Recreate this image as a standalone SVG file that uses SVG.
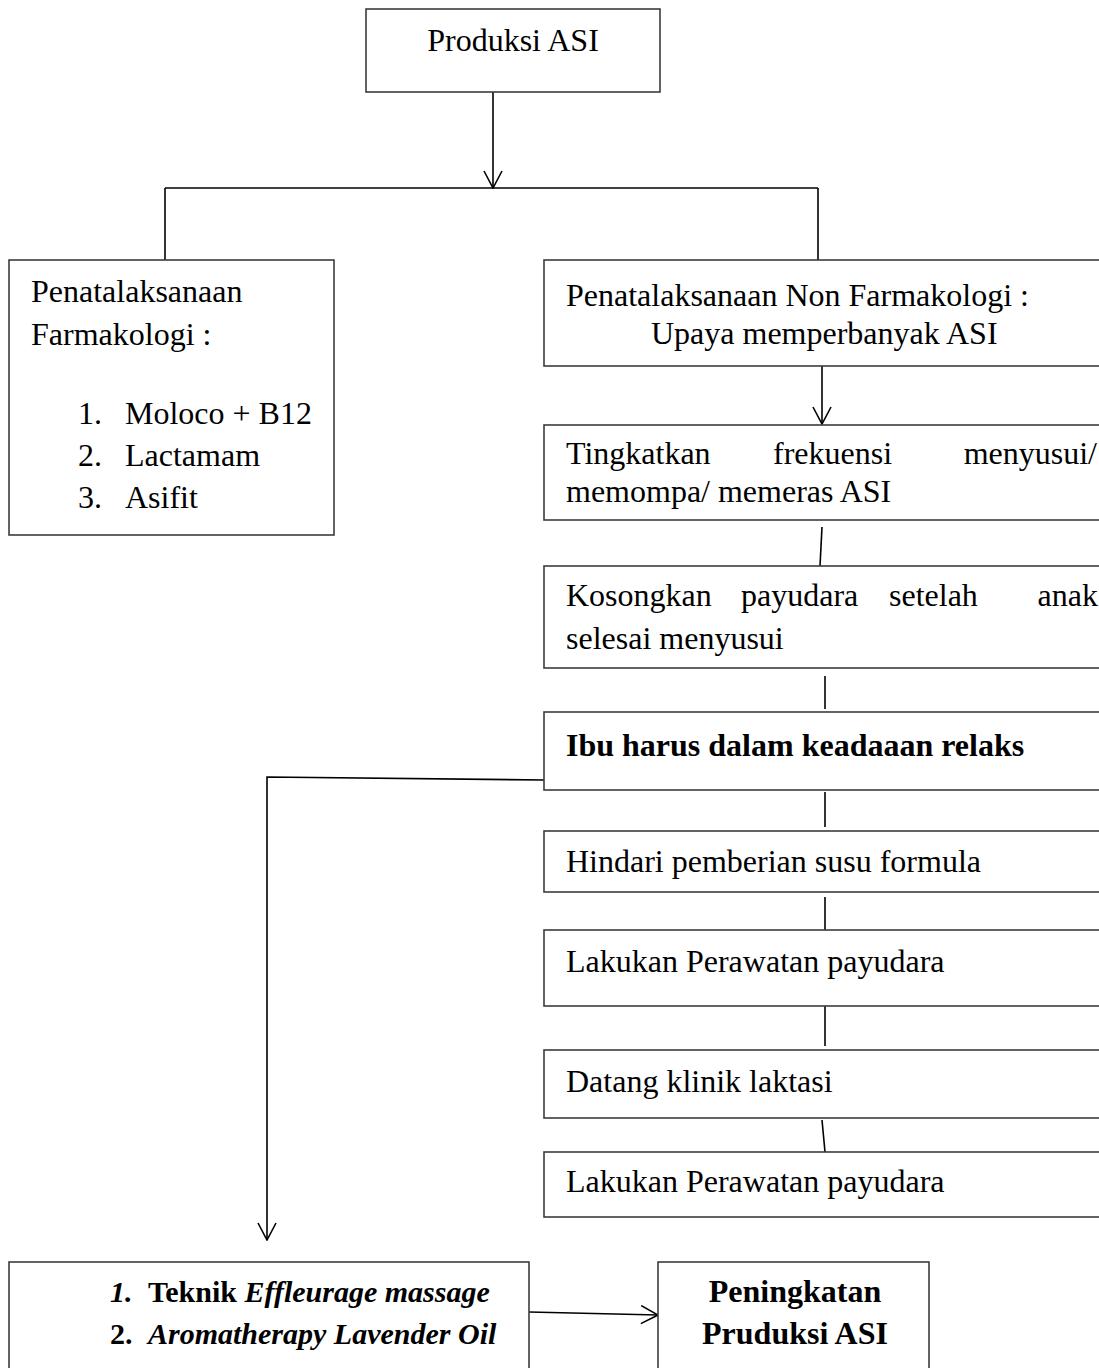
<svg xmlns="http://www.w3.org/2000/svg" width="1099" height="1368" viewBox="0 0 1099 1368">
<style>
  .box { fill: #fff; stroke: #3c3c3c; stroke-width: 1.6; }
  .t { font-family: "Liberation Serif", "Times New Roman", serif; font-size: 32px; fill: #000; }
  .s { font-size: 30px; }
  .b { font-weight: bold; }
  .i { font-style: italic; }
  .c { fill: none; stroke: #000; stroke-width: 1.6; }
</style>
<defs>
  <marker id="arr" viewBox="0 0 20 20" refX="19" refY="10" markerWidth="20" markerHeight="20" orient="auto" markerUnits="userSpaceOnUse">
    <path d="M2,1 L19,10 L2,19" fill="none" stroke="#000" stroke-width="1.6"/>
  </marker>
</defs>
<rect width="1099" height="1368" fill="#fff"/>

<g id="connectors">
  <line class="c" x1="493" y1="92" x2="493" y2="188" marker-end="url(#arr)"/>
  <line class="c" x1="165" y1="188" x2="818" y2="188"/>
  <line class="c" x1="165" y1="188" x2="165" y2="260"/>
  <line class="c" x1="818" y1="188" x2="818" y2="260"/>
  <line class="c" x1="822" y1="366" x2="822" y2="424" marker-end="url(#arr)"/>
  <line class="c" x1="822" y1="527" x2="820" y2="566"/>
  <line class="c" x1="825" y1="676" x2="825" y2="709"/>
  <line class="c" x1="825" y1="792" x2="825" y2="827"/>
  <line class="c" x1="825" y1="897" x2="825" y2="930"/>
  <line class="c" x1="825" y1="1006" x2="825" y2="1046"/>
  <line class="c" x1="822" y1="1120" x2="825" y2="1152"/>
  <polyline class="c" points="544,780 267,777 267,1240" marker-end="url(#arr)"/>
  <line class="c" x1="529" y1="1312" x2="658" y2="1315" marker-end="url(#arr)"/>
</g>

<g id="node-produksi">
  <rect class="box" x="366" y="9" width="294" height="83"/>
  <text class="t" x="513" y="51" text-anchor="middle">Produksi ASI</text>
</g>

<g id="node-farmakologi">
  <rect class="box" x="9" y="260" width="325" height="275"/>
  <text class="t" x="31" y="302">Penatalaksanaan</text>
  <text class="t" x="31" y="345">Farmakologi :</text>
  <text class="t" x="78" y="424">1.</text>
  <text class="t" x="125" y="424">Moloco + B12</text>
  <text class="t" x="78" y="466">2.</text>
  <text class="t" x="125" y="466">Lactamam</text>
  <text class="t" x="78" y="508">3.</text>
  <text class="t" x="125" y="508">Asifit</text>
</g>

<g id="node-nonfarmakologi">
  <rect class="box" x="544" y="260" width="560" height="106"/>
  <text class="t" x="566" y="306">Penatalaksanaan Non Farmakologi :</text>
  <text class="t" x="651" y="344">Upaya memperbanyak ASI</text>
</g>

<g id="node-tingkatkan">
  <rect class="box" x="544" y="425" width="560" height="95"/>
  <text class="t" x="566" y="464">Tingkatkan</text>
  <text class="t" x="773" y="464">frekuensi</text>
  <text class="t" x="1097" y="464" text-anchor="end">menyusui/</text>
  <text class="t" x="566" y="502">memompa/ memeras ASI</text>
</g>

<g id="node-kosongkan">
  <rect class="box" x="544" y="566" width="560" height="102"/>
  <text class="t" x="566" y="606">Kosongkan</text>
  <text class="t" x="741" y="606">payudara</text>
  <text class="t" x="889" y="606">setelah</text>
  <text class="t" x="1098" y="606" text-anchor="end">anak</text>
  <text class="t" x="566" y="649">selesai menyusui</text>
</g>

<g id="node-relaks">
  <rect class="box" x="544" y="712" width="560" height="78"/>
  <text class="t b" x="566" y="756">Ibu harus dalam keadaaan relaks</text>
</g>

<g id="node-hindari">
  <rect class="box" x="544" y="831" width="560" height="61"/>
  <text class="t" x="566" y="872">Hindari pemberian susu formula</text>
</g>

<g id="node-perawatan1">
  <rect class="box" x="544" y="930" width="560" height="76"/>
  <text class="t" x="566" y="972">Lakukan Perawatan payudara</text>
</g>

<g id="node-klinik">
  <rect class="box" x="544" y="1050" width="560" height="68"/>
  <text class="t" x="566" y="1092">Datang klinik laktasi</text>
</g>

<g id="node-perawatan2">
  <rect class="box" x="544" y="1152" width="560" height="65"/>
  <text class="t" x="566" y="1192">Lakukan Perawatan payudara</text>
</g>

<g id="node-teknik">
  <rect class="box" x="9" y="1262" width="520" height="120"/>
  <text class="t s b i" x="110" y="1302">1.</text>
  <text class="t s b" x="148" y="1302">Teknik <tspan class="i">Effleurage massage</tspan></text>
  <text class="t s b" x="110" y="1344">2.</text>
  <text class="t s b i" x="148" y="1344">Aromatherapy Lavender Oil</text>
</g>

<g id="node-peningkatan">
  <rect class="box" x="658" y="1262" width="271" height="120"/>
  <text class="t b" x="795" y="1302" text-anchor="middle">Peningkatan</text>
  <text class="t b" x="795" y="1344" text-anchor="middle">Pruduksi ASI</text>
</g>
</svg>
